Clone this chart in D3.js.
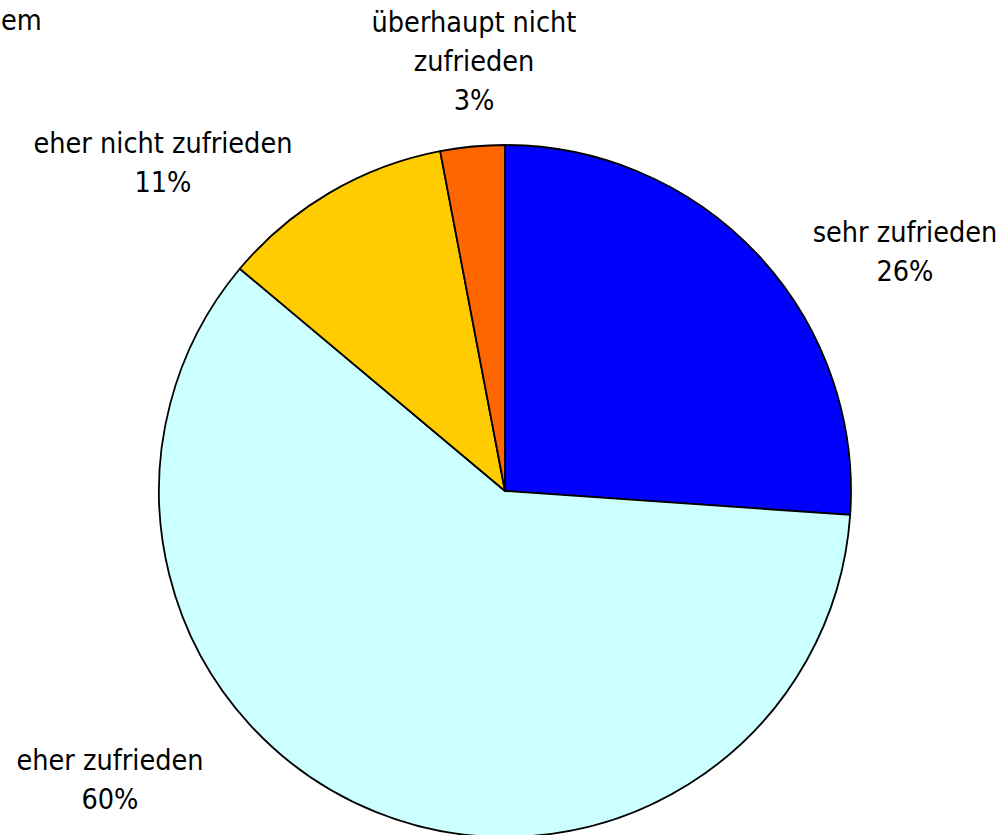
<!DOCTYPE html>
<head>
<meta charset="utf-8">
<style>
body { margin: 0; background: #fff; }
.lbl {
  font-family: "DejaVu Sans Condensed", "DejaVu Sans", sans-serif;
  font-stretch: condensed;
  font-size: 28.5px;
  fill: #000;
}
</style>
</head>
<body>
<script src="https://cdn.jsdelivr.net/npm/d3@7/dist/d3.min.js"></script>
<script type="text/javascript">

// data
var categories = ["sehr zufrieden", "eher zufrieden", "eher nicht zufrieden", "überhaupt nicht zufrieden"];
var values = [26.1, 60.0, 10.9, 3.0];
var pctLabels = ["26%", "60%", "11%", "3%"];
var labelLines = [["sehr zufrieden"], ["eher zufrieden"], ["eher nicht zufrieden"], ["überhaupt nicht", "zufrieden"]];
var colors = ["#0000FF", "#CCFFFF", "#FFCC00", "#FF6600"];

var width = 1003, height = 835;
var cx = 505, cy = 491, radius = 346;
var lineGap = 39;
// where each label block sits (centre x, first baseline)
var labelAnchor = [[905, 242], [110, 770], [163, 153], [474, 32]];

var svg = d3.select("body").append("svg")
  .attr("width", width)
  .attr("height", height);

// tail of the title, the only part visible
svg.append("text")
  .attr("class", "lbl")
  .attr("x", 1)
  .attr("y", 30)
  .text("em");

var pie = d3.pie().sort(null).value(function(d) { return d; });
var arc = d3.arc().innerRadius(0).outerRadius(radius);

var g = svg.append("g").attr("transform", "translate(" + cx + "," + cy + ")");

g.selectAll("path")
  .data(pie(values))
  .enter()
  .append("path")
  .attr("d", arc)
  .style("fill", function(d, i) { return colors[i]; })
  .style("stroke", "#000")
  .style("stroke-width", 1.8)
  .style("stroke-linejoin", "round");

var labels = svg.selectAll("text.slice")
  .data(categories)
  .enter()
  .append("text")
  .attr("class", "lbl slice")
  .attr("text-anchor", "middle");

labels.each(function(d, i) {
  var t = d3.select(this);
  var lines = labelLines[i].concat([pctLabels[i]]);
  lines.forEach(function(s, k) {
    t.append("tspan")
      .attr("x", labelAnchor[i][0])
      .attr("y", labelAnchor[i][1] + k * lineGap)
      .text(s);
  });
});

</script>
</body>
